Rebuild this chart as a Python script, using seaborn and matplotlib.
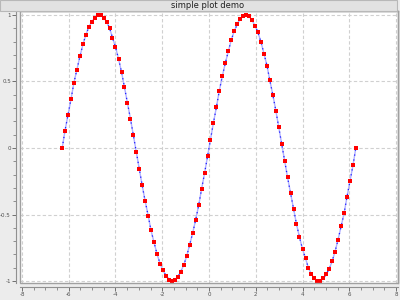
import matplotlib
matplotlib.use("Agg")
import matplotlib.pyplot as plt
import matplotlib.patches as mpatches
from matplotlib.ticker import MultipleLocator
import seaborn as sns
import pandas as pd

title = "simple plot demo"

x_first_half = [-6.28, -6.16, -6.03, -5.90, -5.78, -5.65, -5.52, -5.39, -5.27, -5.14,
                -5.01, -4.89, -4.76, -4.63, -4.51, -4.38, -4.25, -4.13, -4.00, -3.87,
                -3.74, -3.62, -3.49, -3.36, -3.24, -3.11, -2.98, -2.86, -2.73, -2.60,
                -2.48, -2.35, -2.22, -2.09, -1.97, -1.84, -1.71, -1.59, -1.46, -1.33,
                -1.21, -1.08, -0.95, -0.83, -0.70, -0.57, -0.44, -0.32, -0.19, -0.06]
x_second_half = [0.06, 0.19, 0.32, 0.44, 0.57, 0.70, 0.83, 0.95, 1.08, 1.21,
                 1.33, 1.46, 1.59, 1.71, 1.84, 1.97, 2.09, 2.22, 2.35, 2.48,
                 2.60, 2.73, 2.86, 2.98, 3.11, 3.24, 3.36, 3.49, 3.62, 3.74,
                 3.87, 4.00, 4.13, 4.25, 4.38, 4.51, 4.63, 4.76, 4.89, 5.01,
                 5.14, 5.27, 5.39, 5.52, 5.65, 5.78, 5.90, 6.03, 6.16, 6.28]
y_first_half = [0.00, 0.13, 0.25, 0.37, 0.49, 0.59, 0.69, 0.78, 0.85, 0.91,
                0.95, 0.98, 1.00, 1.00, 0.98, 0.95, 0.90, 0.83, 0.76, 0.67,
                0.57, 0.46, 0.34, 0.22, 0.10, -0.03, -0.16, -0.28, -0.40, -0.51,
                -0.62, -0.71, -0.80, -0.87, -0.92, -0.96, -0.99, -1.00, -0.99, -0.97,
                -0.93, -0.88, -0.81, -0.73, -0.64, -0.54, -0.43, -0.31, -0.19, -0.06]
y_second_half = [0.06, 0.19, 0.31, 0.43, 0.54, 0.64, 0.73, 0.81, 0.88, 0.93,
                 0.97, 0.99, 1.00, 0.99, 0.96, 0.92, 0.87, 0.80, 0.71, 0.62,
                 0.51, 0.40, 0.28, 0.16, 0.03, -0.10, -0.22, -0.34, -0.46, -0.57,
                 -0.67, -0.76, -0.83, -0.90, -0.95, -0.98, -1.00, -1.00, -0.98, -0.95,
                 -0.91, -0.85, -0.78, -0.69, -0.59, -0.49, -0.37, -0.25, -0.13, 0.00]

x_ticks = [-8, -6, -4, -2, 0, 2, 4, 6, 8]
y_ticks = [-1, -0.5, 0, 0.5, 1]
y_tick_labels = ["-1", "-0.5", "0", "0.5", "1"]
x_tick_labels = ["-8", "-6", "-4", "-2", "0", "2", "4", "6", "8"]

df = pd.DataFrame({"x": x_first_half + x_second_half,
                   "y": y_first_half + y_second_half})

sns.set_style("white")
plt.rcParams["font.family"] = ["DejaVu Sans"]

fig = plt.figure(figsize=(4, 3), dpi=100)
fig.patch.set_facecolor("#ececec")

# title band
band = mpatches.Rectangle((0.0, 1 - 10.5 / 300), 397 / 400, 10.5 / 300,
                          transform=fig.transFigure, facecolor="#e2e2e2",
                          edgecolor="#b8b8b8", linewidth=0.8, zorder=0)
fig.patches.append(band)
fig.text(208 / 400, 1 - 5.5 / 300, title, ha="center", va="center",
         fontsize=6, color="#202020")

ax = fig.add_axes([20 / 400, 17 / 300, 378 / 400, 272 / 300])
ax.set_facecolor("white")

sns.lineplot(data=df, x="x", y="y", ax=ax, color="#b0b0ff", linewidth=1.0,
             estimator=None, sort=False, zorder=2)
sns.lineplot(data=df, x="x", y="y", ax=ax, color="#2020ff", linewidth=0.9,
             linestyle=(0, (1, 3)), estimator=None, sort=False, zorder=3)
sns.scatterplot(data=df, x="x", y="y", ax=ax, color="red", marker="s",
                s=5, linewidth=0, zorder=4)

ax.set_xlim(-8.085, 8.085)
ax.set_ylim(-1.015, 1.03)
ax.set_xticks(x_ticks)
ax.set_xticklabels(x_tick_labels)
ax.set_yticks(y_ticks)
ax.set_yticklabels(y_tick_labels)
ax.xaxis.set_minor_locator(MultipleLocator(0.5))
ax.yaxis.set_minor_locator(MultipleLocator(0.1))
ax.set_xlabel("")
ax.set_ylabel("")

ax.grid(True, which="major", color="#d0d0d0", linestyle=(0, (3, 2)), linewidth=0.8)
ax.set_axisbelow(True)

for side in ["top", "right"]:
    ax.spines[side].set_visible(True)
    ax.spines[side].set_color("#a0a0a0")
    ax.spines[side].set_linewidth(1.0)
ax.spines["left"].set_position(("outward", 3))
ax.spines["bottom"].set_position(("outward", 3))
ax.spines["left"].set_color("#909090")
ax.spines["bottom"].set_color("#909090")
ax.spines["left"].set_linewidth(0.8)
ax.spines["bottom"].set_linewidth(0.8)

# inner frame on canvas
ax.add_patch(mpatches.Rectangle((0, 0), 1, 1, transform=ax.transAxes,
                                fill=False, edgecolor="#a0a0a0", linewidth=1.0,
                                zorder=5, clip_on=False))

ax.tick_params(axis="both", which="major", length=3, width=0.7, color="#707070",
               labelsize=4, labelcolor="#505050", pad=0.5,
               left=True, bottom=True)
ax.tick_params(axis="both", which="minor", length=2, width=0.6, color="#808080",
               left=True, bottom=True)

fig.savefig("out.png", dpi=100, facecolor=fig.get_facecolor())
